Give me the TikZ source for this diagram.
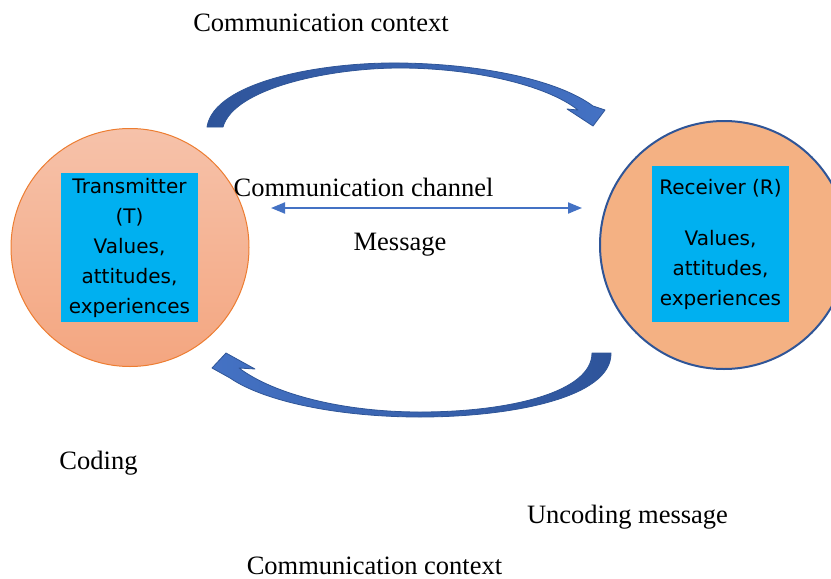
\documentclass[tikz,border=0pt]{standalone}
\usepackage{fontspec}
\setmainfont{Liberation Serif}
\newfontfamily\boxfont{DejaVu Sans}
\usetikzlibrary{arrows.meta}
\definecolor{pinkTop}{RGB}{246,194,170}
\definecolor{pinkBot}{RGB}{244,166,128}
\definecolor{orangeLine}{RGB}{237,125,49}
\definecolor{peach}{RGB}{244,177,131}
\definecolor{navy}{RGB}{47,85,151}
\definecolor{skyBox}{RGB}{0,176,240}
\definecolor{arrowBlue}{RGB}{68,114,196}
\definecolor{arcDark}{RGB}{46,84,154}
\tikzset{
  label/.style={font=\fontsize{26.5}{30}\selectfont, anchor=base, inner sep=0pt},
  infobox/.style={rectangle, fill=skyBox, inner sep=0pt, align=center,
    font=\boxfont\fontsize{20}{30}\selectfont},
  ctxline/.style={draw=navy, line width=0.8pt, line join=round},
  chanarrow/.style={draw=arrowBlue, line width=2pt, {Triangle[length=14pt,width=11pt]}-{Triangle[length=14pt,width=11pt]}}
}
\begin{document}
\begin{tikzpicture}[x=1pt,y=-1pt]
\useasboundingbox (0,0) rectangle (831,579);

% transmitter and receiver circles
\shade[top color=pinkTop, bottom color=pinkBot] (130,247.5) circle (119);
\draw[orangeLine, line width=1pt] (130,247.5) circle (119);
\node[circle, minimum size=248pt, fill=peach, draw=navy, line width=2pt] (rcv) at (724,245) {};
\node[circle, minimum size=238pt] (trn) at (130,247.5) {};

% value boxes
\node[infobox, minimum width=137pt, minimum height=149pt] (tbox) at (129.5,247.5)
  {Transmitter\\(T)\\Values,\\attitudes,\\experiences};
\node[infobox, minimum width=137pt, minimum height=156pt] (rbox) at (720.5,244)
  {Receiver (R)\\[21pt]Values,\\attitudes,\\experiences};

% communication channel
\coordinate (chanL) at (271,208);
\coordinate (chanR) at (582,208);
\draw[chanarrow] (chanL) -- (chanR);

% upper context arc, transmitter to receiver
\shade[ctxline, left color=arcDark, right color=arrowBlue] (207,127)
  .. controls (214,82) and (320,62) .. (400,63)
  .. controls (482,64) and (558,80) .. (593,106)
  -- (605,110) -- (593,126) -- (567,109) -- (578,110)
  .. controls (545,84) and (470,68) .. (400,68)
  .. controls (330,68) and (234,88) .. (223,127) -- cycle;

% lower context arc, receiver to transmitter
\shade[ctxline, left color=arrowBlue, right color=arcDark] (611,353)
  .. controls (612,398) and (510,417) .. (420,417)
  .. controls (340,417) and (265,402) .. (230,378)
  -- (212,368) -- (226,353) -- (255,369) -- (239,368)
  .. controls (275,395) and (345,412) .. (420,412)
  .. controls (510,412) and (592,392) .. (592,353) -- cycle;

% labels
\node[label] (ctxTop) at (321,31) {Communication context};
\node[label] (chan) at (363.5,196) {Communication channel};
\node[label] (msg) at (400,250) {Message};
\node[label] (cod) at (98.5,469) {Coding};
\node[label] (unc) at (627.5,523) {Uncoding message};
\node[label] (ctxBot) at (374.5,574) {Communication context};
\end{tikzpicture}
\end{document}
